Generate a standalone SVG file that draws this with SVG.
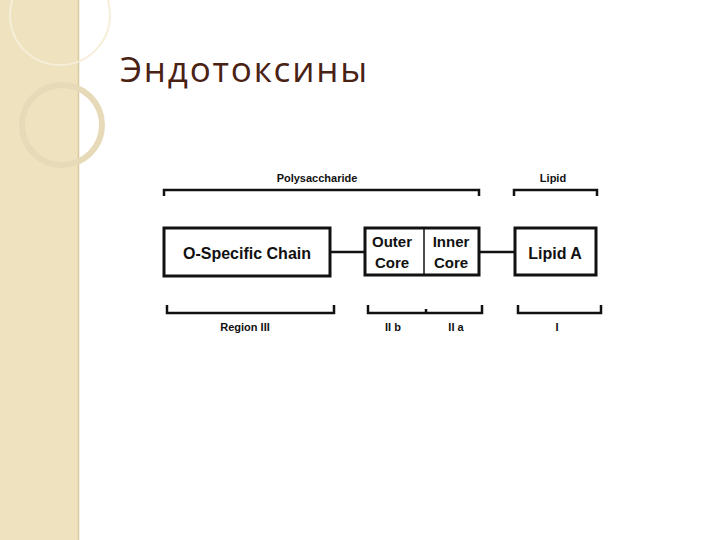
<svg xmlns="http://www.w3.org/2000/svg" width="720" height="540" viewBox="0 0 720 540">
<style>
.b{fill:#fff;stroke:#111;stroke-width:3}
.l{fill:none;stroke:#111;stroke-width:2.5}
.t{font-family:"Liberation Sans",Arial,sans-serif;font-weight:bold;fill:#111}
</style>
<rect width="720" height="540" fill="#fff"/>
<g id="sidebar">
<rect x="0" y="0" width="78" height="540" fill="#efe2bf"/>
<line x1="78.5" y1="0" x2="78.5" y2="540" stroke="#d8c9a0" stroke-width="1.5"/>
<circle cx="60" cy="15" r="50" fill="none" stroke="#f6eed8" stroke-width="2"/>
<circle cx="62" cy="125" r="40" fill="none" stroke="#e6dab8" stroke-width="6"/>
</g>
<text x="120" y="82" font-family="'Open Sans','DejaVu Sans',sans-serif" font-size="35" letter-spacing="1.8" fill="#4a2214">Эндотоксины</text>
<g id="connectors">
<path class="l" d="M164,196V190H479V196"/>
<path class="l" d="M514,196V190H597V196"/>
<path class="l" d="M330,252H365M479,252H515"/>
<path class="l" d="M167,305V313H334V305"/>
<path class="l" d="M368,305V313H482V305M426,309V313"/>
<path class="l" d="M518,305V313H601V305"/>
</g>
<g id="labels" class="t">
<text x="317" y="182" font-size="11" text-anchor="middle">Polysaccharide</text>
<text x="553" y="182" font-size="11" text-anchor="middle">Lipid</text>
<text x="245" y="331" font-size="11" text-anchor="middle">Region III</text>
<text x="393" y="331" font-size="11" text-anchor="middle">II b</text>
<text x="456" y="331" font-size="11" text-anchor="middle">II a</text>
<text x="557" y="331" font-size="11" text-anchor="middle">I</text>
</g>
<g id="o-chain"><rect class="b" x="164" y="228" width="166" height="48"/><text class="t" x="247" y="259" font-size="16" text-anchor="middle">O-Specific  Chain</text></g>
<g id="core"><rect class="b" x="365" y="228" width="114" height="47"/><line x1="424" y1="228" x2="424" y2="275" stroke="#111" stroke-width="1.5"/>
<text class="t" x="392" y="247" font-size="15" text-anchor="middle">Outer</text><text class="t" x="392" y="268" font-size="15" text-anchor="middle">Core</text>
<text class="t" x="451" y="247" font-size="15" text-anchor="middle">Inner</text><text class="t" x="451" y="268" font-size="15" text-anchor="middle">Core</text></g>
<g id="lipidA"><rect class="b" x="515" y="228" width="81" height="47"/><text class="t" x="555" y="259" font-size="16" text-anchor="middle">Lipid  A</text></g>
</svg>
